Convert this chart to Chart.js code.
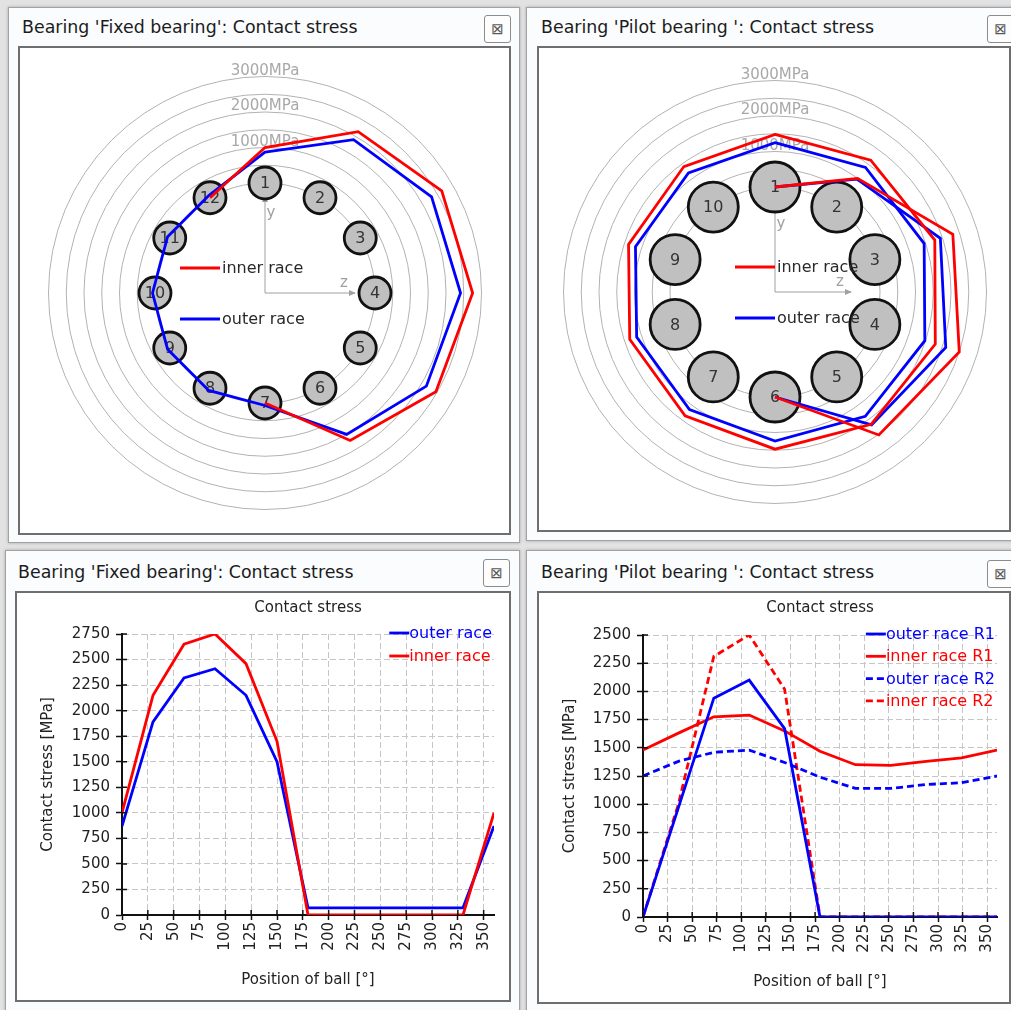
<!DOCTYPE html>
<html>
<head>
<meta charset="utf-8">
<script src="https://cdn.jsdelivr.net/npm/chart.js@4.4.0/dist/chart.umd.min.js"></script>
<style>
  body { margin: 0; width: 1011px; height: 1010px; overflow: hidden; position: relative; background: #e2e2e2; font-family: "DejaVu Sans", sans-serif; }
  .win { position: absolute; box-sizing: border-box; background: #fafcfe; border: 1px solid #a2a2a2; box-shadow: 0 0 3px rgba(0,0,0,0.25); }
  .title { position: absolute; font-size: 17.4px; line-height: 20px; color: #1c1c1c; white-space: nowrap; }
  .close { position: absolute; box-sizing: border-box; width: 27px; height: 28px; border: 1px solid #8c8c8c; border-radius: 3px; background: #fdfdfd; color: #5a5a5a; font-size: 15px; line-height: 26px; text-align: center; }
  .box { position: absolute; box-sizing: border-box; border: 2px solid #6e6e6e; background: #fff; }
  canvas { display: block; }
</style>
</head>
<body>
<div class="win" style="left:8px;top:7px;width:512px;height:536px"></div>
<div class="win" style="left:526px;top:7px;width:500px;height:534px"></div>
<div class="win" style="left:5px;top:550px;width:515px;height:470px"></div>
<div class="win" style="left:526px;top:550px;width:500px;height:470px"></div>

<div class="title" style="left:22px;top:17px">Bearing 'Fixed bearing': Contact stress</div>
<div class="title" style="left:541px;top:17px">Bearing 'Pilot bearing ': Contact stress</div>
<div class="title" style="left:18px;top:562px">Bearing 'Fixed bearing': Contact stress</div>
<div class="title" style="left:541px;top:562px">Bearing 'Pilot bearing ': Contact stress</div>

<div class="close" style="left:484px;top:15px">⊠</div>
<div class="close" style="left:987px;top:15px">⊠</div>
<div class="close" style="left:483px;top:559px">⊠</div>
<div class="close" style="left:987px;top:560px">⊠</div>

<div class="box" style="left:18px;top:46px;width:493px;height:489px"><canvas id="fixedPolar" width="489" height="485"></canvas></div>
<div class="box" style="left:537px;top:46px;width:474px;height:486px"><canvas id="pilotPolar" width="470" height="482"></canvas></div>
<div class="box" style="left:15px;top:591px;width:496px;height:411px"><canvas id="fixedLine" width="492" height="407"></canvas></div>
<div class="box" style="left:537px;top:591px;width:474px;height:413px"><canvas id="pilotLine" width="470" height="409"></canvas></div>

<script>
// fixed bearing, 12 balls, one point every 30 deg
const fixedPos = [0, 30, 60, 90, 120, 150, 180, 210, 240, 270, 300, 330, 360];
const fixedOuter = [870, 1890, 2320, 2410, 2150, 1500, 70, 70, 70, 70, 70, 70, 870];
const fixedInner = [1000, 2150, 2650, 2750, 2460, 1700, 0, 0, 0, 0, 0, 0, 1000];
const fixedBalls = ['1', '2', '3', '4', '5', '6', '7', '8', '9', '10', '11', '12'];

// pilot bearing, 10 balls, two rows
const pilotPos = [0, 36, 72, 108, 144, 180, 216, 252, 288, 324, 360];
const pilotOuterR1 = [0, 970, 1940, 2100, 1670, 0, 0, 0, 0, 0, 0];
const pilotInnerR1 = [1480, 1630, 1775, 1790, 1650, 1470, 1350, 1345, 1380, 1410, 1480];
const pilotOuterR2 = [1250, 1380, 1460, 1480, 1370, 1240, 1140, 1140, 1175, 1190, 1250];
const pilotInnerR2 = [0, 1000, 2310, 2500, 2020, 0, 0, 0, 0, 0, 0];
const pilotBalls = ['1', '2', '3', '4', '5', '6', '7', '8', '9', '10'];

const ringTicks = [0, 500, 1000, 1500, 2000, 2500, 3000];
const ringLabels = [1000, 2000, 3000];

const RED = '#ff0000';
const BLUE = '#0000ff';
const K = 0.0355; // px per MPa on the polar plots

Chart.defaults.font.family = '"DejaVu Sans", sans-serif';
Chart.defaults.font.size = 15;
Chart.defaults.color = '#222';

// zero runs are not drawn on the polar plot
function polarNulls(vals) {
  const n = vals.length;
  return vals.map((v, i) => (v === 0 && vals[(i + n - 1) % n] === 0 && vals[(i + 1) % n] === 0) ? null : v);
}

const polarDeco = {
  id: 'polarDeco',
  beforeDatasetsDraw(chart, args, o) {
    const s = chart.scales.r;
    const ctx = chart.ctx;
    const cx = s.xCenter, cy = s.yCenter;
    ctx.save();
    ctx.font = '15px "DejaVu Sans"';
    ctx.fillStyle = '#a8a8a8';
    ctx.textAlign = 'center';
    ctx.textBaseline = 'alphabetic';
    ringLabels.forEach(v => ctx.fillText(v + 'MPa', cx, cy - s.getDistanceFromCenterForValue(v) - 2));

    // y / z axes
    ctx.strokeStyle = '#a0a0a0';
    ctx.fillStyle = '#a0a0a0';
    ctx.lineWidth = 1;
    ctx.beginPath();
    ctx.moveTo(cx, cy); ctx.lineTo(cx, cy - o.yLen);
    ctx.moveTo(cx, cy); ctx.lineTo(cx + o.zLen, cy);
    ctx.stroke();
    ctx.beginPath();
    ctx.moveTo(cx, cy - o.yLen - 1); ctx.lineTo(cx - 3, cy - o.yLen + 6); ctx.lineTo(cx + 3, cy - o.yLen + 6); ctx.closePath();
    ctx.moveTo(cx + o.zLen + 1, cy); ctx.lineTo(cx + o.zLen - 6, cy - 3); ctx.lineTo(cx + o.zLen - 6, cy + 3); ctx.closePath();
    ctx.fill();
    ctx.font = '15px "DejaVu Sans"';
    ctx.textAlign = 'center';
    ctx.textBaseline = 'middle';
    ctx.fillText('y', cx + 6, cy - o.yLen + 17);
    ctx.fillText('z', cx + o.zLen - 11, cy - 10);
    ctx.restore();
  },
  afterDatasetDraw(chart, args) {
    const ds = chart.data.datasets[args.index];
    if (!ds.isBalls) return;
    const ctx = chart.ctx;
    ctx.save();
    ctx.font = '16px "DejaVu Sans"';
    ctx.fillStyle = '#333';
    ctx.textAlign = 'center';
    ctx.textBaseline = 'middle';
    args.meta.data.forEach((p, i) => ctx.fillText(chart.data.labels[i], p.x, p.y + 1));
    ctx.restore();
  },
  afterDatasetsDraw(chart, args, o) {
    const s = chart.scales.r;
    const ctx = chart.ctx;
    const items = [{ label: 'inner race', color: RED, dy: -25 }, { label: 'outer race', color: BLUE, dy: 26 }];
    ctx.save();
    ctx.font = '16px "DejaVu Sans"';
    ctx.textAlign = 'left';
    ctx.textBaseline = 'middle';
    items.forEach(it => {
      const y = s.yCenter + it.dy;
      ctx.strokeStyle = it.color;
      ctx.lineWidth = 2.8;
      ctx.beginPath();
      ctx.moveTo(s.xCenter + o.legX, y);
      ctx.lineTo(s.xCenter + o.legX + 40, y);
      ctx.stroke();
      ctx.fillStyle = '#2a2a2a';
      ctx.fillText(it.label, s.xCenter + o.legX + 42, y + 1);
    });
    ctx.restore();
  }
};

function makePolar(id, balls, series, deco) {
  const n = balls.length;
  const datasets = series.map(s => ({
    label: s.label,
    data: polarNulls(s.values.slice(0, n)),
    borderColor: s.color,
    borderWidth: 2.8,
    fill: false,
    spanGaps: false,
    pointRadius: 0,
    order: 1
  }));
  datasets.push({
    label: 'balls',
    isBalls: true,
    data: balls.map(() => 0),
    showLine: false,
    fill: false,
    pointRadius: deco.ballR,
    pointBackgroundColor: '#c0c0c0',
    pointBorderColor: '#111',
    pointBorderWidth: 2.8,
    order: 2
  });
  new Chart(document.getElementById(id), {
    type: 'radar',
    data: { labels: balls, datasets },
    options: {
      responsive: false,
      animation: false,
      events: [],
      layout: { padding: deco.pad },
      plugins: { legend: { display: false }, tooltip: { enabled: false }, polarDeco: deco },
      scales: {
        r: {
          bounds: 'data',
          angleLines: { display: false },
          pointLabels: { display: false },
          ticks: { display: false },
          grid: { color: '#b2b2b2', lineWidth: 1, circular: true },
          afterDataLimits: sc => { sc.min = -deco.r0 / K; sc.max = sc.min + sc.drawingArea / K; },
          afterBuildTicks: sc => { sc.ticks = ringTicks.map(v => ({ value: v })); }
        }
      }
    },
    plugins: [polarDeco]
  });
}

const lineDeco = {
  id: 'lineDeco',
  afterDraw(chart, args, o) {
    const ctx = chart.ctx;
    const a = chart.chartArea;
    const xs = chart.scales.x, ys = chart.scales.y;
    ctx.save();
    // inner half of the cross ticks
    ctx.strokeStyle = '#111';
    ctx.lineWidth = 1.5;
    ctx.beginPath();
    xs.ticks.forEach(t => { const px = xs.getPixelForValue(t.value); ctx.moveTo(px, a.bottom); ctx.lineTo(px, a.bottom - 5); });
    ys.ticks.forEach(t => { const py = ys.getPixelForValue(t.value); ctx.moveTo(a.left, py); ctx.lineTo(a.left + 5, py); });
    ctx.stroke();

    ctx.fillStyle = '#222';
    ctx.font = '15px "DejaVu Sans"';
    ctx.textAlign = 'center';
    ctx.textBaseline = 'middle';
    ctx.fillText('Contact stress', (a.left + a.right) / 2, 15);

    ctx.font = '16px "DejaVu Sans"';
    ctx.textAlign = 'left';
    const dss = chart.data.datasets;
    const w = Math.max(...dss.map(d => ctx.measureText(d.label).width));
    const tx = a.right - 2 - w;
    dss.forEach((d, i) => {
      const y = a.top - 1 + i * o.rowH;
      ctx.strokeStyle = d.borderColor;
      ctx.lineWidth = 2.8;
      ctx.setLineDash(d.borderDash || []);
      ctx.beginPath();
      ctx.moveTo(tx - 20, y);
      ctx.lineTo(tx, y);
      ctx.stroke();
      ctx.setLineDash([]);
      ctx.fillStyle = d.borderColor;
      ctx.fillText(d.label, tx, y + 1);
    });
    ctx.restore();
  }
};

function makeLine(id, pos, series, yMax, deco) {
  new Chart(document.getElementById(id), {
    type: 'line',
    data: {
      datasets: series.map(s => ({
        label: s.label,
        data: pos.map((x, i) => ({ x, y: s.values[i] })),
        borderColor: s.color,
        borderWidth: 2.8,
        borderDash: s.dash || [],
        pointRadius: 0,
        fill: false,
        tension: 0,
        order: s.order || 0
      }))
    },
    options: {
      responsive: false,
      animation: false,
      events: [],
      layout: { padding: deco.pad },
      plugins: { legend: { display: false }, tooltip: { enabled: false }, lineDeco: deco },
      scales: {
        x: {
          type: 'linear',
          min: 0,
          max: 360,
          ticks: { stepSize: 25, includeBounds: false, autoSkip: false, minRotation: 90, maxRotation: 90, padding: 2, callback: v => String(v) },
          grid: { color: '#c6c6c6', tickColor: '#111', tickLength: 5, tickWidth: 1.5 },
          border: { color: '#111', width: 2, dash: [6, 3] },
          title: { display: true, text: 'Position of ball [°]', padding: { top: 0, bottom: 11 } },
          afterFit: sc => { sc.height = deco.xH; }
        },
        y: {
          min: 0,
          max: yMax,
          ticks: { stepSize: 250, padding: 6, callback: v => String(v) },
          grid: { color: '#c6c6c6', tickColor: '#111', tickLength: 6, tickWidth: 1.5 },
          border: { color: '#111', width: 2, dash: [6, 3] },
          title: { display: true, text: 'Contact stress [MPa]', padding: { top: 2, bottom: 0 } },
          afterFit: sc => { sc.width = deco.yW; }
        }
      }
    },
    plugins: [lineDeco]
  });
}

makePolar('fixedPolar', fixedBalls, [
  { label: 'inner race', values: fixedInner, color: RED },
  { label: 'outer race', values: fixedOuter, color: BLUE }
], { r0: 110, ballR: 16, pad: { left: 1, right: 0, top: 5, bottom: 0 }, yLen: 97, zLen: 90, legX: -85 });

makePolar('pilotPolar', pilotBalls, [
  { label: 'inner race', values: pilotInnerR1, color: RED },
  { label: 'inner race', values: pilotInnerR2, color: RED },
  { label: 'outer race', values: pilotOuterR1, color: BLUE },
  { label: 'outer race', values: pilotOuterR2, color: BLUE }
], { r0: 105, ballR: 25, pad: { left: 2, right: 0, top: 6, bottom: 0 }, yLen: 85, zLen: 76, legX: -40 });

makeLine('fixedLine', fixedPos, [
  { label: 'outer race', values: fixedOuter, color: BLUE, order: 1 },
  { label: 'inner race', values: fixedInner, color: RED, order: 0 }
], 2750, { pad: { left: 20, right: 15, top: 41, bottom: 0 }, yW: 85, xH: 85, rowH: 23 });

makeLine('pilotLine', pilotPos, [
  { label: 'outer race R1', values: pilotOuterR1, color: BLUE },
  { label: 'inner race R1', values: pilotInnerR1, color: RED },
  { label: 'outer race R2', values: pilotOuterR2, color: BLUE, dash: [7, 4] },
  { label: 'inner race R2', values: pilotInnerR2, color: RED, dash: [7, 4] }
], 2500, { pad: { left: 20, right: 12, top: 42, bottom: 0 }, yW: 84, xH: 85, rowH: 22.3 });
</script>
</body>
</html>
